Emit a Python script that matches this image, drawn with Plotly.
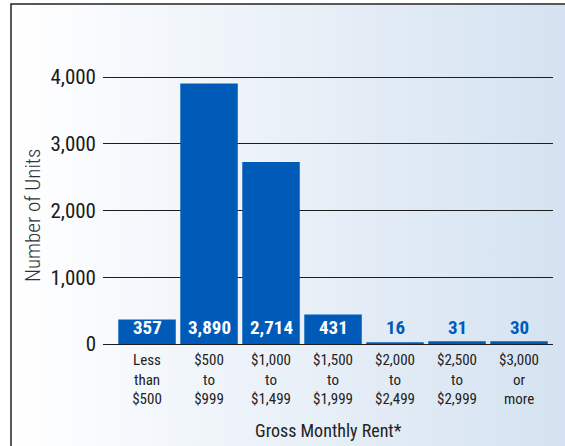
import base64
import plotly.graph_objects as go

categories = ["Less<br>than<br>$500", "$500<br>to<br>$999", "$1,000<br>to<br>$1,499",
              "$1,500<br>to<br>$1,999", "$2,000<br>to<br>$2,499", "$2,500<br>to<br>$2,999",
              "$3,000<br>or<br>more"]
units = [357, 3890, 2714, 431, 16, 31, 30]
y_ticks = [0, 1000, 2000, 3000, 4000]

W, H = 565, 446
ML, MR, MT, MB = 103, 12, 67, 102
PW, PH = W - ML - MR, H - MT - MB

def px_x(p):
    return (p - ML) / PW

def px_y(p):
    return (H - MB - p) / PH

FONT = "Roboto Condensed, Roboto, Liberation Sans, sans-serif"
BLUE = "#005bb8"

svg = ('<svg xmlns="http://www.w3.org/2000/svg" width="200" height="100" preserveAspectRatio="none">'
       '<defs><linearGradient id="g" x1="0" y1="0" x2="1" y2="0">'
       '<stop offset="0" stop-color="#ffffff"/><stop offset="1" stop-color="#d4e2f1"/>'
       '</linearGradient></defs><rect width="200" height="100" fill="url(#g)"/></svg>')
bg_src = "data:image/svg+xml;base64," + base64.b64encode(svg.encode()).decode()

fig = go.Figure()
fig.add_trace(go.Bar(
    x=categories, y=units,
    marker=dict(color=BLUE, line=dict(color=BLUE, width=1.5)),
    hoverinfo="skip",
))

annotations = []
for c, v in zip(categories, units):
    inside = v >= 300
    annotations.append(dict(
        x=c, y=0, xref="x", yref="y", text=f"{v:,}", showarrow=False,
        yanchor="bottom", yshift=3,
        font=dict(family=FONT, size=19, color="white" if inside else BLUE, weight="bold"),
    ))

annotations.append(dict(
    x=0.5, y=px_y(430), xref="paper", yref="paper", text="Gross Monthly Rent*",
    showarrow=False, xanchor="center", yanchor="middle",
    font=dict(family=FONT, size=18, color="#222222"),
))
annotations.append(dict(
    x=px_x(33), y=px_y(216), xref="paper", yref="paper", text="Number of Units",
    showarrow=False, textangle=-90, xanchor="center", yanchor="middle",
    font=dict(family=FONT, size=21, color="#333333", weight=300),
))

fig.update_layout(
    width=W, height=H,
    margin=dict(l=ML, r=MR, t=MT, b=MB, autoexpand=False),
    paper_bgcolor="white", plot_bgcolor="rgba(0,0,0,0)",
    bargap=0.097, showlegend=False,
    annotations=annotations,
    images=[dict(source=bg_src, xref="paper", yref="paper",
                 x=px_x(12), y=px_y(5), sizex=(W - 12) / PW, sizey=(H + 10) / PH,
                 xanchor="left", yanchor="top", sizing="stretch", layer="below")],
    shapes=[dict(type="rect", xref="paper", yref="paper",
                 x0=px_x(11), x1=px_x(W + 20), y0=px_y(H + 20), y1=px_y(4),
                 line=dict(color="#222222", width=1.5), fillcolor="rgba(0,0,0,0)", layer="above")],
)

fig.update_xaxes(
    range=[-0.71, 6.548], showgrid=False, zeroline=False, showline=False,
    ticks="", tickfont=dict(family=FONT, size=15, color="#222222"),
    ticklabelstandoff=5, fixedrange=True, automargin=False,
)
fig.update_yaxes(
    range=[0, 4150], tickvals=y_ticks, ticktext=[f"{t:,}" for t in y_ticks],
    showgrid=True, gridcolor="#1e1e1e", gridwidth=1.3,
    zeroline=True, zerolinecolor="#1e1e1e", zerolinewidth=1.3,
    showline=False, ticks="",
    tickfont=dict(family=FONT, size=21, color="#1a1a1a"),
    ticklabelstandoff=6, fixedrange=True, automargin=False,
)

fig.write_html("out.html", config={"displayModeBar": False},
               post_script="document.body.style.margin='0';")
